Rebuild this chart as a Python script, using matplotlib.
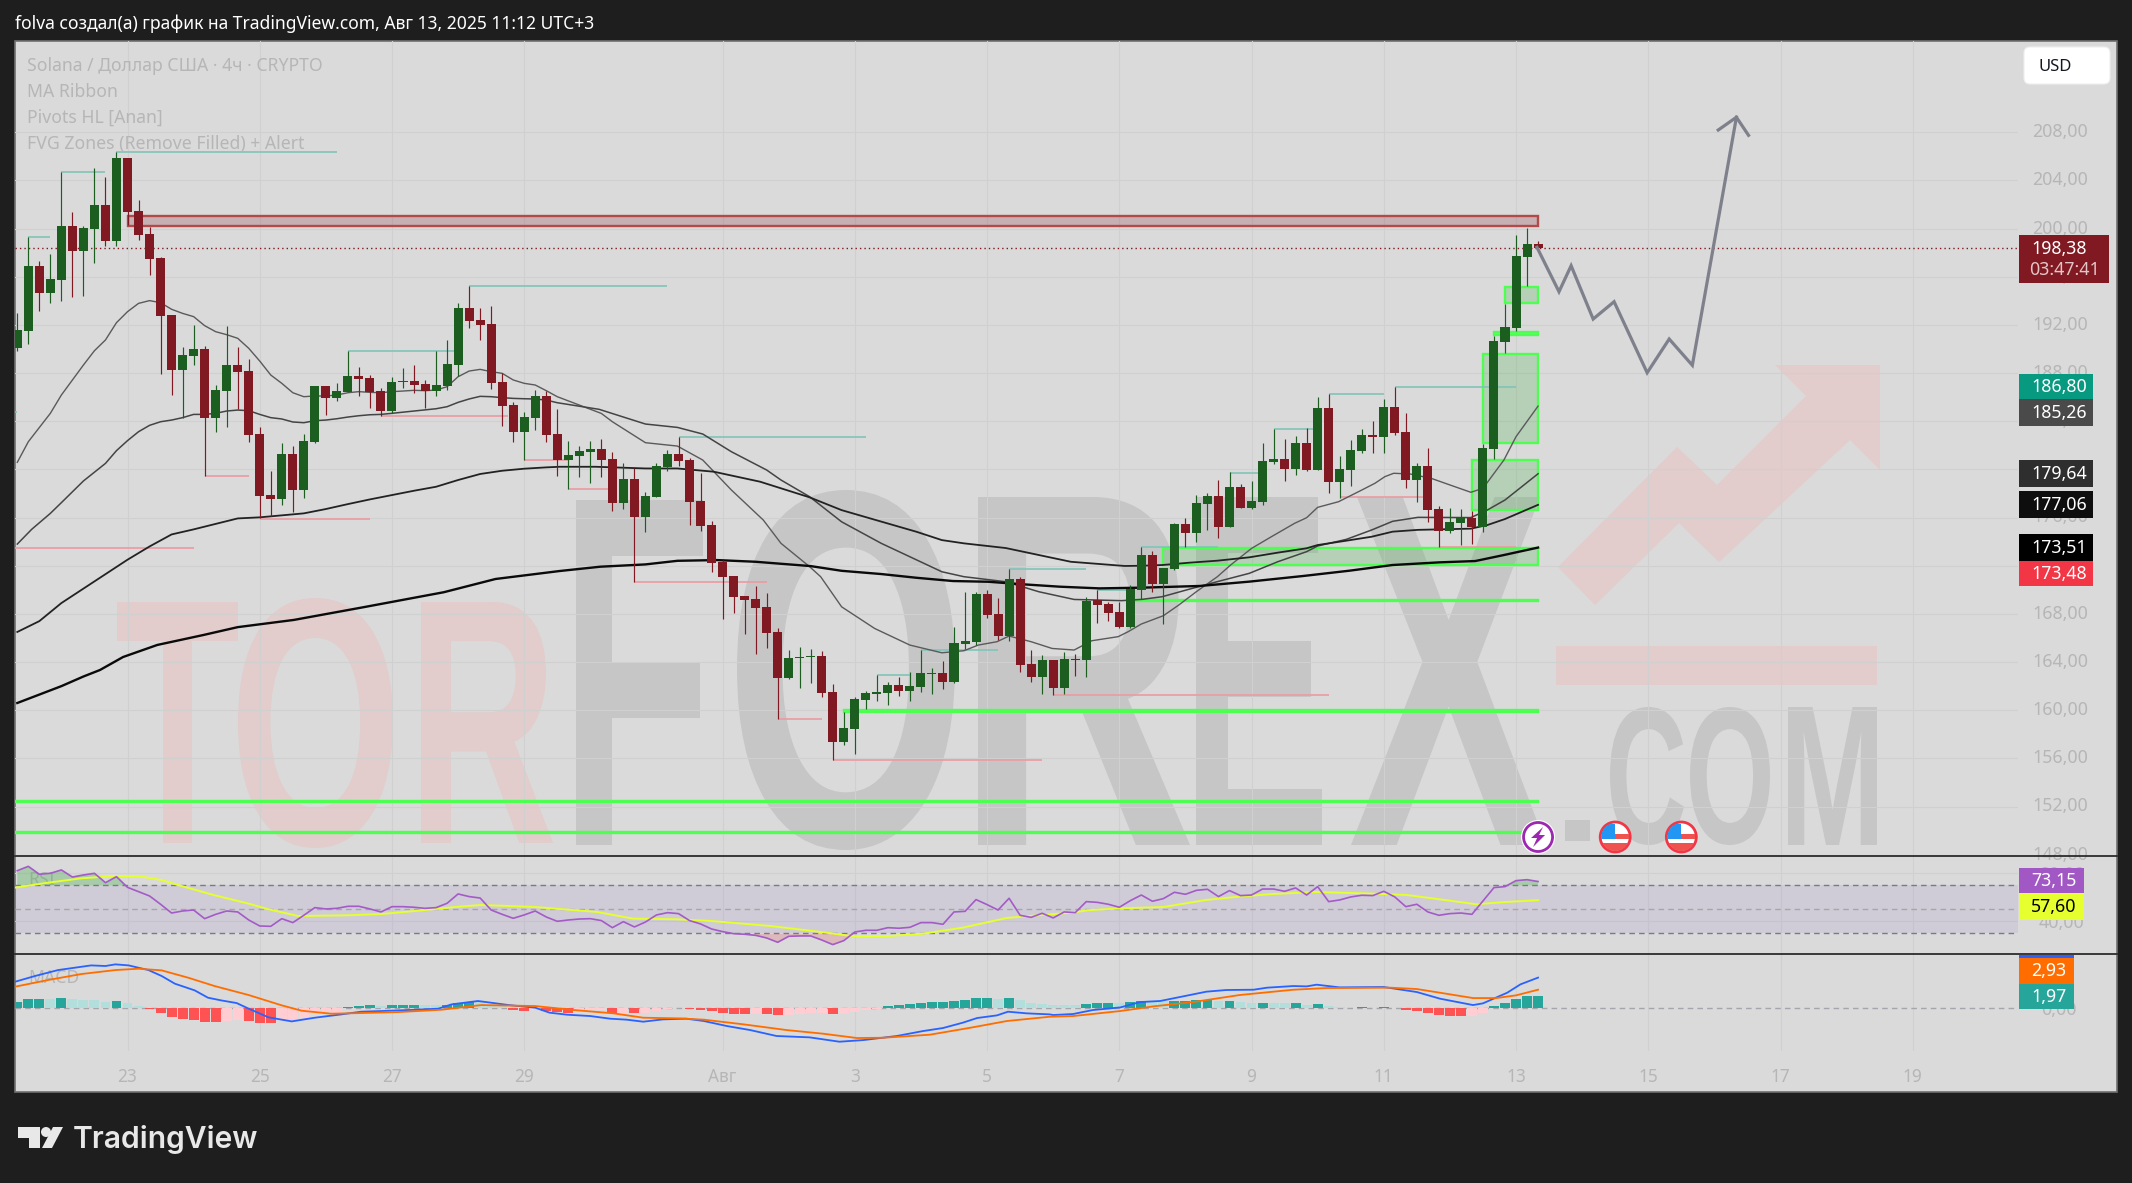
import numpy as np
import matplotlib
matplotlib.use('Agg')
import matplotlib.pyplot as plt
import matplotlib.patheffects as pe
from matplotlib.patches import Rectangle, Circle, Polygon, FancyBboxPatch
from matplotlib.transforms import Affine2D, ScaledTranslation

plt.rcParams['font.family'] = ['Noto Sans', 'DejaVu Sans']

# candles, 4h bars, index 0 = 23 Jul 00:00
opens = [190.11,191.52,196.90,194.68,195.76,200.22,198.17,200.00,201.96,199.00,
         205.87,201.46,199.55,197.56,192.83,188.28,189.45,190.00,184.30,186.54,
         188.67,188.17,182.94,177.87,177.57,181.28,178.32,182.28,186.93,185.96,
         186.46,187.76,187.59,186.51,184.88,187.26,187.34,187.09,186.54,186.95,
         188.70,193.41,192.41,192.08,187.26,185.35,183.13,184.30,186.10,182.94,
         180.78,181.14,181.47,181.69,180.86,177.21,179.20,176.04,177.70,180.20,
         181.28,180.78,177.37,175.38,172.30,171.14,169.48,169.23,168.57,166.49,
         162.67,164.33,164.44,164.50,161.50,157.35,158.43,160.84,161.34,161.42,
         162.09,161.59,161.92,163.00,163.08,162.34,165.49,165.66,169.65,167.98,
         166.16,170.89,163.83,162.75,164.16,161.84,164.25,164.16,169.15,168.82,
         168.16,166.91,170.01,172.89,170.48,171.73,175.47,174.72,177.13,177.79,
         175.22,178.54,176.80,177.29,180.62,180.87,180.04,182.20,179.95,185.10,
         178.96,179.95,181.53,182.86,182.69,185.19,183.11,179.12,180.28,176.71,
         174.88,175.55,175.96,175.22,181.70,190.59,191.75,197.65,198.73]
closes = [191.58,196.90,194.68,195.82,200.22,198.17,200.05,201.96,199.00,205.87,
          201.41,199.50,197.50,192.77,188.28,189.50,190.00,184.30,186.59,188.67,
          188.12,182.88,177.82,177.57,181.28,178.32,182.36,186.93,185.96,186.51,
          187.76,187.51,186.43,184.88,187.26,187.34,187.04,186.54,187.01,188.75,
          193.41,192.35,192.02,187.20,185.29,183.13,184.35,186.10,182.88,180.81,
          181.19,181.52,181.69,180.78,177.21,179.20,176.04,177.79,180.28,181.28,
          180.69,177.29,175.29,172.22,171.06,169.40,169.15,168.48,166.41,162.67,
          164.33,164.38,164.50,161.42,157.35,158.51,160.92,161.42,161.50,162.09,
          161.59,162.00,163.08,163.08,162.34,165.58,165.74,169.65,167.90,166.16,
          170.89,163.75,162.75,164.16,161.84,164.25,164.19,169.06,168.73,168.07,
          166.91,170.07,172.89,170.51,171.81,175.47,174.72,177.21,177.79,175.22,
          178.54,176.80,177.38,180.70,180.87,180.04,182.20,179.95,185.10,178.96,
          180.04,181.61,182.86,182.69,185.19,183.03,179.12,180.28,176.63,174.88,
          175.63,175.96,175.22,181.78,190.67,191.83,197.73,198.73,198.38]
highs = [192.96,199.33,197.31,197.89,204.73,201.38,200.22,205.01,204.29,206.37,
         205.87,202.38,200.16,197.62,192.83,190.17,191.99,190.25,187.01,191.91,
         190.17,189.17,183.52,179.87,182.16,181.94,182.94,186.93,186.93,187.15,
         189.81,188.51,187.84,186.73,187.67,188.42,188.67,187.43,189.83,190.75,
         193.79,195.23,193.41,193.57,187.98,185.60,184.77,186.59,186.48,185.02,
         182.36,181.94,182.36,182.52,181.44,180.53,180.11,178.12,180.53,181.61,
         182.69,180.94,179.70,175.71,172.47,171.14,169.48,170.31,169.73,166.82,
         164.99,165.24,165.08,164.91,162.17,159.84,161.09,161.59,162.92,162.34,
         162.75,163.17,164.99,163.50,164.08,166.91,169.81,169.81,169.98,169.31,
         171.75,171.06,164.99,164.58,164.16,164.83,164.66,169.40,169.98,168.98,
         169.01,170.40,173.56,173.22,171.81,175.55,175.96,177.88,178.04,179.12,
         179.79,178.79,179.04,182.20,183.36,182.53,182.78,183.44,186.02,186.27,
         181.12,182.44,183.36,184.02,185.85,186.85,184.69,180.53,181.78,176.96,
         176.80,176.71,176.55,182.11,191.08,193.74,199.47,200.06,198.98]
lows = [189.86,190.42,193.18,193.85,194.02,194.35,194.40,197.17,198.56,198.56,
        200.30,199.06,196.18,187.95,186.21,184.24,188.67,179.45,183.13,183.55,
        185.02,182.30,175.93,176.13,177.07,176.46,177.65,182.22,184.55,185.71,
        186.46,186.12,185.13,184.46,184.71,186.76,186.37,185.13,186.12,186.62,
        187.79,191.77,190.78,186.71,183.63,182.30,180.78,183.30,182.30,179.48,
        178.37,179.39,178.89,179.39,176.57,176.73,170.67,174.82,177.70,179.86,
        180.28,175.38,174.91,171.47,167.57,168.07,166.32,164.66,165.16,159.26,
        162.58,161.84,162.25,161.09,155.86,157.10,156.35,160.09,160.76,160.42,
        161.17,160.76,161.50,161.34,161.75,162.25,165.08,165.41,167.65,165.82,
        165.74,163.17,162.34,161.34,161.26,161.34,162.83,162.75,167.24,167.40,
        166.83,166.83,169.24,169.85,167.16,171.65,173.56,173.97,174.97,174.30,
        175.22,176.80,176.71,177.04,180.45,179.04,179.54,179.87,179.95,178.04,
        177.63,178.62,181.36,181.36,181.36,182.86,178.46,177.29,175.63,173.56,
        174.72,173.72,173.81,174.80,180.87,189.67,191.50,195.24,198.31]

# MA ribbon, read at key points
ma1_k = [-10,-9,-7,-6,-4,-3,-2,-1,0,1,2,3,4,5,6,7,8,9,10,11,12,13,14,15,16,17,18,19,20,21,22,23,24,25,26,27,28,29,30,31,32,33,34,35,36,37,38,39,
         43,44,47,49.9,52.2,54.8,57.7,59.3,61.9,62.9,64.8,67.8,71,73.9,75.9,77.2,78.9,80,82,83.9,85.9,87.5,
         89.9,90.8,92,94,95.4,97,98.9,100.1,102,103.8,105.9,107,108,109.9,111.9,113.2,114.1,114.9,116.4,118.3,120,121.9,123,124.9,126,128]
ma1_p = [180.59,182.30,184.66,186.18,188.67,189.86,190.75,192.19,193.10,193.79,194.02,193.85,193.30,192.96,192.69,191.94,191.44,191.19,190.89,190.06,189.00,187.84,187.15,186.37,186.04,186.10,186.10,186.18,186.37,186.46,186.40,186.37,186.46,186.51,186.57,186.54,186.59,186.87,187.70,188.17,188.31,188.12,187.98,187.43,187.15,187.01,186.54,186.04,
         184.65,183.96,182.22,181.94,180.78,178.29,175.79,173.86,171.92,171.09,168.59,166.79,165.41,164.77,164.94,165.41,165.69,166.16,165.69,165.13,165.00,165.77,
         166.11,166.52,167.16,167.85,168.74,169.85,171.09,172.06,173.44,174.41,175.52,175.99,176.85,177.32,178.24,178.85,179.40,179.68,179.62,179.26,178.71,178.10,178.43,180.78,182.72,185.26]
ma2_k = [-10,-8.7,-7,-6,-4,-2,-1,0,1,2,3,4,5,6,7,8,9,10,11,12,13,14,15,16,17,18,19,20,21,22,23,24,26,28,29,30,31,32,33,34,35,36,37,38,39,
         42.8,47,49.9,52.2,54.8,58,59.3,61.9,64.8,68.4,73.9,75.9,79.7,82.7,85.9,
         90.2,92.1,93.9,96.3,98.9,101.8,104.4,107,108,110.6,112.9,114.8,117.1,121.9,123.4,125,128]
ma2_p = [173.80,175.02,176.35,177.24,179.04,180.50,181.56,182.39,183.13,183.66,183.96,184.10,184.30,184.57,184.57,184.66,184.85,184.93,184.88,184.57,184.30,184.19,183.94,183.88,184.05,184.10,184.21,184.35,184.46,184.54,184.57,184.66,184.85,185.04,185.21,185.57,185.85,186.07,186.04,185.96,185.90,185.87,185.85,185.76,185.54,
         184.99,183.77,183.49,182.94,181.47,179.95,179.12,177.73,175.65,173.86,171.50,171.09,170.67,169.84,169.20,
         169.10,169.21,169.43,170.04,170.68,171.37,172.34,173.17,173.64,174.19,174.97,175.69,176.02,176.00,176.63,177.46,179.64]
ma3_k = [-10,-8,-6,-4,-2,0,2,4,6,10,12,16,18,20,22,24,26,28,30,32,34,36,38,
         39.2,42.5,47,49.9,53.2,57.4,61.9,64.8,67.1,71.6,73.9,75.9,79.7,82.7,85.6,
         90.5,92.1,93.9,96.3,98.9,101.8,104.4,107,108,110.6,112.9,114.8,117.1,121.9,123.4,125,128]
ma3_p = [166.50,167.40,168.90,170.10,171.30,172.50,173.60,174.60,175.02,175.93,176.02,176.35,176.71,177.12,177.51,177.87,178.23,178.56,179.12,179.62,179.89,180.06,180.17,
         180.22,180.22,180.08,180.08,179.81,178.98,177.68,176.62,176.01,174.82,174.13,173.86,173.47,172.89,172.33,
         171.98,172.00,172.06,172.25,172.42,172.70,173.09,173.45,173.72,174.08,174.41,174.83,174.98,175.08,175.38,175.88,177.06]
ma4_k = [-10,-8,-6,-4,-2.5,-0.4,2.7,6.9,10,15.1,21.5,28.7,33.4,39.2,42.9,47,49.9,53.5,57,62,64.8,68.4,71.6,74.9,78.1,81.4,84.6,88.2,92.1,97.3,101.8,106.7,110.9,114.8,119,122.3,124.9,128]
ma4_p = [160.60,161.30,162.00,162.80,163.34,164.42,165.42,166.25,166.90,167.50,168.57,169.80,170.90,171.56,171.92,172.11,172.41,172.47,172.33,171.97,171.58,171.31,171.00,170.73,170.67,170.45,170.26,170.12,170.18,170.32,170.68,171.15,171.59,172.06,172.28,172.39,172.89,173.51]

# pivot highs / lows
piv_hi_start = [-9,-6,-1,31,20,-10.3,50,72,68,80,88,92,100,104,109,115]
piv_hi_end = [-7,-2,19,49,30,-10,67,79,71,87,91,99,103,107.6,114,126]
piv_hi_price = [199.33,204.73,206.37,195.23,189.81,184.80,182.69,164.99,162.92,171.75,169.98,173.56,179.73,183.39,186.27,186.87]
piv_lo_start = [7,12,23,36,40,46,59,64,84,110,119,-10.3]
piv_lo_end = [11,22,34.5,40,44.4,58,63,83,109,117.6,126,6]
piv_lo_price = [179.45,175.88,184.46,180.78,178.37,170.67,159.29,155.86,161.26,177.68,173.56,173.50]

# FVG zones, all run to the last bar
fvg_start = [125,124,123,122,94,91,65,-10.3,-10.3]
fvg_top = [195.15,191.44,189.59,180.81,173.47,169.18,160.00,152.45,149.91]
fvg_bottom = [193.85,191.17,182.22,176.63,172.06,169.08,159.86,152.35,149.81]
bear_fvg = (0, 201.05, 200.18)

# drawn forecast path
path_k = [127.9,129.9,131.0,133.0,134.9,137.9,139.9,142.0,146.0]
path_p = [198.45,194.76,196.92,192.49,193.93,188.03,190.83,188.65,209.25]
head_k = [144.35,146.0,147.1]
head_p = [208.19,209.25,207.75]

last_price = 198.38
event_k = [128, 135, 141]

# RSI
rsi = [82.2,85.8,79.2,80,82.8,76.9,78.6,80,72.2,77.2,
       68.3,64.7,61.1,54.2,46.9,48.6,49.4,42.2,45.8,48.6,
       47.8,41.1,36.1,35.8,42.2,38.9,45,51.4,50.3,50.8,
       52.5,52.5,50.3,47.8,52.2,52.2,51.7,50.8,51.4,55,
       62.8,60.6,59.4,49.4,45.8,42.5,45.3,48.6,43.6,40,
       41.1,41.9,42.2,40.6,34.7,39.7,35.3,39.4,45.3,47.2,
       46.4,40.6,37.8,33.6,31.4,29.7,29.2,28.3,26.1,22.5,
       27.5,27.8,27.8,24.4,20.6,23.9,31.1,32.5,32.5,34.7,
       34.2,35,38.9,38.9,37.5,47.8,48.3,58.1,53.9,49.4,
       59.2,45,43.3,46.7,42.8,47.8,47.2,56.4,55.8,54.2,
       51.7,57.2,61.9,56.7,58.9,64.2,62.5,65.8,66.7,60.6,
       65.6,61.4,61.9,66.9,66.9,65,67.8,61.9,68.9,56.4,
       57.8,60.3,61.7,61.4,65,60.3,52.2,54.2,47.8,45,
       46.4,46.9,45.8,56.9,68.1,68.9,73.9,74.7,73.15]
rsi_ma_k = [-10.2,-7.2,-4.2,-1.1,1.3,3.1,4.9,7.9,11,12.8,15.5,20,23.1,26.1,29.7,32.1,37,39.6,42.6,45.9,49.8,52.9,58.3,62.2,65.9,69.2,72.2,75.8,79.8,83.7,85.8,87.1,90.1,94,97.9,100.9,104,107.9,113,116.1,119.1,122.4,125.1,128]
rsi_ma = [68.1,72.2,75.8,77.8,77.2,74.4,69.4,61.7,54.7,50,44.4,45,46.1,48.6,51.9,53.6,51.9,50,47.8,42.2,41.7,40.3,36.1,31.9,27.5,27.8,29.7,34.7,42.8,45.8,47.2,49.2,50.8,51.9,57.8,60.6,62.8,64.4,63.1,61.9,58.3,54.2,56.1,57.6]

# MACD
macd_k = [-10.2,-8.4,-6.3,-3.3,-2,-1.1,0.1,1.9,3.1,4.3,6.1,7.3,8.5,9.9,11,12.8,14.9,17,19.4,21.2,23.1,25.5,28.2,29.4,31.8,33,34.6,37,
          38.3,39.9,42,43.8,45.3,46.8,48.6,50.7,52.3,54.4,56.5,58.9,61.9,64.6,66.8,69.8,72.2,74,75.8,77.1,78.9,79.9,81.6,83.7,
          84,85.8,87.6,90.1,91.9,93.7,95.5,97.9,99.7,102.2,103.4,105.8,107,107.9,110,114,117,119.1,122.1,123,125.2,126.4,128]
macd = [4.23,5.16,6.13,6.89,6.79,7.06,6.89,6.13,5.16,3.91,2.82,1.63,1.19,0.76,-0.16,-1.57,-2.23,-1.63,-1.09,-0.65,-0.54,-0.38,-0.16,0.54,1.09,0.81,0.43,0,
        -0.81,-1.14,-1.36,-1.79,-1.95,-2.28,-1.90,-1.79,-2.17,-2.99,-3.64,-4.61,-4.83,-5.54,-5.27,-4.61,-3.80,-3.31,-2.44,-1.68,-1.25,-0.65,-0.92,-1.09,
        -1.19,-1.03,-0.38,0.05,0.92,1.09,1.74,2.61,2.88,2.93,3.26,3.53,3.47,3.75,3.31,3.37,2.55,1.47,0.43,0.71,2.44,3.80,4.90]
signal_k = [-10.2,-7.2,-4.2,-1.1,1,3.1,5.5,7.9,11,14,15.8,18.5,21.2,24.6,28.5,32.1,37,
            40.5,44.1,46.8,50.1,52.3,55.9,59.8,63.1,66.2,68.6,72.8,76.5,79.8,83.7,
            85.8,90.1,93.1,96.7,100.9,105.8,108.8,114.6,117,119.1,122.1,124.2,126,128]
signal = [3.42,4.51,5.48,6.13,6.35,6.08,4.89,3.53,2.06,0.38,-0.49,-0.98,-0.87,-0.71,-0.33,0.43,0.27,
          -0.38,-0.92,-1.63,-1.74,-1.95,-2.71,-3.64,-4.23,-4.94,-4.89,-4.40,-3.26,-2.17,-1.47,
          -1.36,-0.54,0.22,0.92,2.06,2.93,3.20,3.26,3.04,2.44,1.57,1.57,2.01,2.93]
hist = [.98,1.41,1.41,1.41,1.57,1.41,1.25,1.25,.92,1.09,
        .76,.27,-.22,-.87,-1.52,-1.85,-2.01,-2.33,-2.33,-2.17,
        -2.01,-2.17,-2.50,-2.50,-2.01,-1.85,-1.68,-.87,-.71,-.87,
        .05,.27,.43,.27,.43,.43,.43,.43,.43,.43,
        .76,.92,1.09,.43,.27,-.38,-.54,-.43,-.54,-.65,
        -.87,-.38,-.38,-.38,-.87,-.98,-.87,-.87,-.54,-.22,
        -.11,-.22,-.38,-.54,-.87,-1.03,-1.03,-.98,-1.03,-1.19,
        -1.19,-.98,-.87,-.87,-1.03,-1.03,-.71,-.38,-.16,.27,
        .43,.60,.76,.92,.92,1.09,1.25,1.57,1.57,1.41,
        1.57,1.25,.76,.60,.43,.43,.43,.60,.76,.76,
        .76,.92,1.09,.92,1.09,1.09,1.09,1.25,1.25,1.09,
        1.09,.92,.76,.76,.76,.76,.76,.43,.60,.27,
        .05,-.05,.05,-.05,.05,-.05,-.38,-.54,-.87,-1.19,
        -1.36,-1.36,-1.36,-.87,.27,.76,1.41,1.90,1.97]
hist_kind = ("dddldlllld" "llrrrrrrrp" "prrrpppppp" "dddldddlld" "ddlllrrprr"
             "rppprprppp" "prrrrrrprr" "pppprppppd" "dddddddddl" "dllllllddd"
             "lddllddddl" "dlldlldldl" "lrdrdrrrrr" "rrppddddd")

# axis labels
price_ticks = list(range(148, 212, 4))
day_ticks = [0, 12, 24, 36, 54, 66, 78, 90, 102, 114, 126, 138, 150, 162]
day_labels = ['23', '25', '27', '29', 'Авг', '3', '5', '7', '9', '11', '13', '15', '17', '19']
legend_lines = ['Solana / Доллар США · 4ч · CRYPTO', 'MA Ribbon', 'Pivots HL [Anan]', 'FVG Zones (Remove Filled) + Alert']
title = 'folva создал(а) график на TradingView.com, Авг 13, 2025 11:12 UTC+3'

W, H = 2132, 1183
X0, STEP = 127.5, 11.02   # pixel of bar 0, pixels per bar
GREEN, RED = '#1B5E20', '#801922'
PANEL = '#DADADA'
GRID = '#D0D0D0'
AXTXT = '#B6B6B6'


def comma(v):
    return '{:.2f}'.format(v).replace('.', ',')


def px_axes(left, top, right, bottom):
    return [left / W, 1 - bottom / H, (right - left) / W, (bottom - top) / H]


class FitBox(pe.AbstractPathEffect):
    """Squeeze a glyph into a pixel box, the watermark letters are very condensed."""

    def __init__(self, x0, top, x1, bottom):
        super().__init__()
        self.box = (x0, H - bottom, x1 - x0, bottom - top)

    def draw_path(self, renderer, gc, tpath, affine, rgbFace=None):
        bb = tpath.transformed(affine).get_extents()
        x, y, w, h = self.box
        t = affine + Affine2D().translate(-bb.x0, -bb.y0).scale(w / bb.width, h / bb.height).translate(x, y)
        renderer.draw_path(gc, tpath, t, rgbFace)


fig = plt.figure(figsize=(W / 100, H / 100), dpi=100, facecolor='#1E1E1E')
up_shift = ScaledTranslation(0, 1.5 / 72, fig.dpi_scale_trans)

# background layer in pixels
bg = fig.add_axes([0, 0, 1, 1], zorder=-2)
bg.set_xlim(0, W)
bg.set_ylim(H, 0)
bg.axis('off')
bg.add_patch(Rectangle((15, 41), 2102, 1051, fc=PANEL, ec='#707070', lw=1.2))

wm_gray, wm_red = '#C6C6C6', '#E2CCCC'
watermark = [('T', 117, 602, 238, 843, wm_red), ('O', 238, 598, 393, 848, wm_red), ('R', 421, 602, 553, 843, wm_red),
             ('F', 576, 500, 703, 845, wm_gray), ('O', 737, 490, 955, 850, wm_gray), ('R', 978, 497, 1190, 845, wm_gray),
             ('E', 1196, 497, 1322, 845, wm_gray), ('X', 1351, 497, 1546, 845, wm_gray), ('.', 1565, 820, 1590, 841, wm_gray),
             ('C', 1610, 707, 1684, 845, wm_gray), ('O', 1690, 707, 1770, 845, wm_gray), ('M', 1788, 707, 1877, 845, wm_gray)]
for ch, x0, top, x1, bottom, col in watermark:
    bg.text((x0 + x1) / 2, (top + bottom) / 2, ch, color=col, family='Liberation Sans', weight='bold',
            fontsize=(bottom - top) * 0.9 if ch != '.' else 60, ha='center', va='center', clip_on=True,
            path_effects=[FitBox(x0, top, x1, bottom)])
bg.add_patch(Polygon([(1558, 567), (1677, 447), (1717, 485), (1806, 396), (1775, 365), (1880, 365), (1880, 470),
                      (1850, 440), (1719, 562), (1679, 523), (1595, 605)], fc=wm_red, ec='none'))
bg.add_patch(Rectangle((1556, 646), 321, 39, fc=wm_red, ec='none'))

k = np.arange(-10, 129)
o, h, l, c = map(np.array, (opens, highs, lows, closes))
up = c >= o

# price pane
ax = fig.add_axes(px_axes(15, 41, 2018, 856))
ax.patch.set_alpha(0)
ax.set_xlim((15 - X0) / STEP, (2018 - X0) / STEP)
ax.set_ylim(208 - (856 - 132.3) / 12.04, 208 - (41 - 132.3) / 12.04)
for s in ax.spines.values():
    s.set_visible(False)
ax.set_yticks(price_ticks)
ax.set_yticklabels([comma(v) for v in price_ticks])
ax.yaxis.tick_right()
ax.tick_params(axis='y', length=0, pad=10, labelsize=12.8, labelcolor=AXTXT)
for lbl in ax.get_yticklabels():
    lbl.set_transform(lbl.get_transform() + up_shift)
ax.set_xticks(day_ticks)
ax.tick_params(axis='x', length=0, labelbottom=False)
ax.grid(True, color=GRID, lw=0.8, zorder=1)
ax.set_axisbelow(True)

for s0, top, bot in zip(fvg_start, fvg_top, fvg_bottom):
    ax.add_patch(Rectangle((s0, bot), 128 - s0, top - bot, fc=(0.30, 0.69, 0.31, 0.25), ec='#4DFF50', lw=1.7, zorder=2))
ax.add_patch(Rectangle((bear_fvg[0], bear_fvg[2]), 128 - bear_fvg[0], bear_fvg[1] - bear_fvg[2],
                       fc=(0.55, 0.2, 0.25, 0.25), ec='#B24A4A', lw=1.7, zorder=2))
ax.hlines(piv_hi_price, piv_hi_start, piv_hi_end, color='#80C4B8', lw=1.2, zorder=2.5)
ax.hlines(piv_lo_price, piv_lo_start, piv_lo_end, color='#EC9AA2', lw=1.2, zorder=2.5)

ax.plot(ma1_k, ma1_p, color='#5A5A5A', lw=1.0, zorder=3)
ax.plot(ma2_k, ma2_p, color='#444444', lw=1.1, zorder=3)
ax.plot(ma3_k, ma3_p, color='#222222', lw=1.3, zorder=3)
ax.plot(ma4_k, ma4_p, color='#0A0A0A', lw=1.7, zorder=3)

ax.axhline(last_price, color=RED, lw=1, ls=(0, (1, 2.2)), zorder=3.5)

colors = np.where(up, GREEN, RED)
ax.vlines(k, l, h, colors=colors, lw=0.85, zorder=4)
ax.bar(k, np.maximum(np.abs(c - o), 0.1), bottom=np.minimum(o, c), width=0.82, color=colors, lw=0, zorder=4.5)

ax.plot(path_k, path_p, color='#7E808C', lw=2.3, solid_joinstyle='miter', zorder=5)
ax.plot(head_k, head_p, color='#7E808C', lw=2.3, solid_joinstyle='miter', zorder=5)

# RSI pane
ax_rsi = fig.add_axes(px_axes(15, 856, 2018, 954), sharex=ax)
ax_rsi.patch.set_alpha(0)
ax_rsi.set_ylim(50 - (954 - 909.3) / 1.2, 50 + (909.3 - 856) / 1.2)
for s in ax_rsi.spines.values():
    s.set_visible(False)
ax_rsi.set_yticks([40, 80])
ax_rsi.set_yticklabels(['40,00', '80,00'])
ax_rsi.yaxis.tick_right()
ax_rsi.tick_params(axis='y', length=0, pad=15, labelsize=12.8, labelcolor=AXTXT)
ax_rsi.tick_params(axis='x', length=0, labelbottom=False)
ax_rsi.grid(True, color=GRID, lw=0.8)
ax_rsi.set_axisbelow(True)
ax_rsi.axhspan(30, 70, color='#7E57C2', alpha=0.1, lw=0, zorder=1)
ax_rsi.axhline(70, color='#787B86', lw=1, ls=(0, (4, 3)), zorder=1.5)
ax_rsi.axhline(30, color='#787B86', lw=1, ls=(0, (4, 3)), zorder=1.5)
ax_rsi.axhline(50, color='#A5A5AD', lw=1, ls=(0, (4, 3)), zorder=1.5)
rsi_arr = np.array(rsi)
ax_rsi.fill_between(k, 70, rsi_arr, where=rsi_arr > 70, color='#4CAF50', alpha=0.35, lw=0, interpolate=True, zorder=1.6)
ax_rsi.fill_between(k, 30, rsi_arr, where=rsi_arr < 30, color='#F23645', alpha=0.2, lw=0, interpolate=True, zorder=1.6)
ax_rsi.plot(k, rsi_arr, color='#A35BC7', lw=1.2, zorder=3)
ax_rsi.plot(rsi_ma_k, rsi_ma, color='#E6FF2E', lw=1.4, zorder=2.5)
ax_rsi.text(28, 880, 'RSI', transform=bg.transData, color=AXTXT, fontsize=12.7, va='center', zorder=1.2)

# MACD pane
ax_macd = fig.add_axes(px_axes(15, 954, 2018, 1051), sharex=ax)
ax_macd.patch.set_alpha(0)
ax_macd.set_ylim((1007.7 - 1051) / 6.14, (1007.7 - 954) / 6.14)
for s in ax_macd.spines.values():
    s.set_visible(False)
ax_macd.set_yticks([0])
ax_macd.set_yticklabels(['0,00'])
ax_macd.yaxis.tick_right()
ax_macd.tick_params(axis='y', length=0, pad=17, labelsize=12.8, labelcolor=AXTXT)
ax_macd.set_xticks(day_ticks)
ax_macd.set_xticklabels(day_labels)
ax_macd.tick_params(axis='x', length=0, pad=12, labelsize=12.4, labelcolor=AXTXT)
ax_macd.grid(True, axis='x', color=GRID, lw=0.8)
ax_macd.set_axisbelow(True)
ax_macd.axhline(0, color='#A5A5AD', lw=1, ls=(0, (4, 3)), zorder=1.5)
hist_colors = {'d': '#26A69A', 'l': '#B2DFDB', 'r': '#FF5252', 'p': '#FFCDD2'}
ax_macd.bar(k, hist, width=0.9, color=[hist_colors[x] for x in hist_kind], lw=0, zorder=2)
ax_macd.plot(macd_k, macd, color='#2962FF', lw=1.3, zorder=3)
ax_macd.plot(signal_k, signal, color='#FF6D00', lw=1.3, zorder=3.2)
ax_macd.text(28, 978, 'MACD', transform=bg.transData, color=AXTXT, fontsize=12.7, va='center', zorder=1.2)

# front layer in pixels: badges, icons, header, logo
fg = fig.add_axes([0, 0, 1, 1], zorder=5)
fg.set_xlim(0, W)
fg.set_ylim(H, 0)
fg.axis('off')
fg.patch.set_alpha(0)

fg.plot([15, 2117], [856, 856], color='#2B2B2B', lw=1.3)
fg.plot([15, 2117], [954, 954], color='#2B2B2B', lw=1.3)

for i, line in enumerate(legend_lines):
    fg.text(27, 66 + 26 * i, line, color=AXTXT, fontsize=12.7, va='center')
fg.text(15, 24, title, color='white', fontsize=12.6, va='center')

fg.add_patch(FancyBboxPatch((2027, 50), 80, 31, boxstyle='round,pad=3,rounding_size=6', fc='white', ec='#EEEEEE', lw=0.8))
fg.text(2039, 67, 'USD', color='#131722', fontsize=12, va='center')

# price tags
tags = [('186,80', 374, 399, 2093, '#089981', 'white', 2059), ('185,26', 399, 426, 2093, '#4A4A4A', 'white', 2059),
        ('179,64', 460, 487, 2093, '#2E2E2E', 'white', 2059), ('177,06', 491, 517.5, 2093, '#0E0E0E', 'white', 2059),
        ('173,51', 534, 561, 2093, '#000000', 'white', 2059), ('173,48', 561, 586, 2093, '#F23645', 'white', 2059),
        ('73,15', 868, 893, 2084, '#A157C4', 'white', 2054), ('57,60', 893, 920, 2084, '#E6FF2E', 'black', 2054),
        ('2,93', 957, 983.7, 2074, '#FF6D00', 'white', 2049), ('1,97', 983.7, 1009, 2074, '#26A69A', 'white', 2049)]
for txt, top, bottom, right, fc, tc, cx in tags:
    fg.add_patch(Rectangle((2019, top), right - 2019, bottom - top, fc=fc, ec='none'))
    fg.text(cx, (top + bottom) / 2 + 0.5, txt, color=tc, fontsize=12.8, weight='semibold', ha='center', va='center')
fg.add_patch(Rectangle((2019, 955), 55, 2.5, fc='#2962FF', ec='none'))
fg.add_patch(Rectangle((2019, 235), 90, 48, fc=RED, ec='none'))
fg.text(2059, 249, comma(last_price), color='white', fontsize=12.8, weight='semibold', ha='center', va='center')
fg.text(2064, 270, '03:47:41', color='#E3C6C8', fontsize=12.8, weight='semibold', ha='center', va='center')

# event icons
ic_y = 837
cx = X0 + event_k[0] * STEP
fg.add_patch(Circle((cx, ic_y), 17, fc='white', ec='none'))
fg.add_patch(Circle((cx, ic_y), 14.5, fc='white', ec='#9C27B0', lw=2))
fg.add_patch(Polygon([(cx + 5, ic_y - 10), (cx - 7, ic_y + 1), (cx - 1, ic_y + 1), (cx - 5, ic_y + 10),
                      (cx + 7, ic_y - 2), (cx + 1, ic_y - 2)], fc='#9C27B0', ec='none'))
for ev in event_k[1:]:
    cx = X0 + ev * STEP
    ring = Circle((cx, ic_y), 15, fc='white', ec='#F23645', lw=2)
    fg.add_patch(ring)
    clip = Circle((cx, ic_y), 14, transform=fg.transData)
    for (rx, ry, rw, rh, col) in [(-14, -13, 14, 15, '#2196F3'), (0, -3, 14, 5, '#EF5350'), (-14, 6, 28, 8, '#EF5350')]:
        r = Rectangle((cx + rx, ic_y + ry), rw, rh, fc=col, ec='none')
        fg.add_patch(r)
        r.set_clip_path(clip)

# TradingView logo
fg.add_patch(Polygon([(18, 1127), (40, 1127), (40, 1148), (29, 1148), (29, 1138), (18, 1138)], fc='#E8E8E8', ec='none'))
fg.add_patch(Circle((46, 1132), 5, fc='#E8E8E8', ec='none'))
fg.add_patch(Polygon([(53, 1127), (63, 1127), (52, 1148), (42, 1148)], fc='#E8E8E8', ec='none'))
fg.text(73, 1140, 'TradingView', color='#E8E8E8', fontsize=21.6, family='Inter', weight='semibold', va='center')

fig.savefig('out.png', dpi=100, facecolor=fig.get_facecolor())
